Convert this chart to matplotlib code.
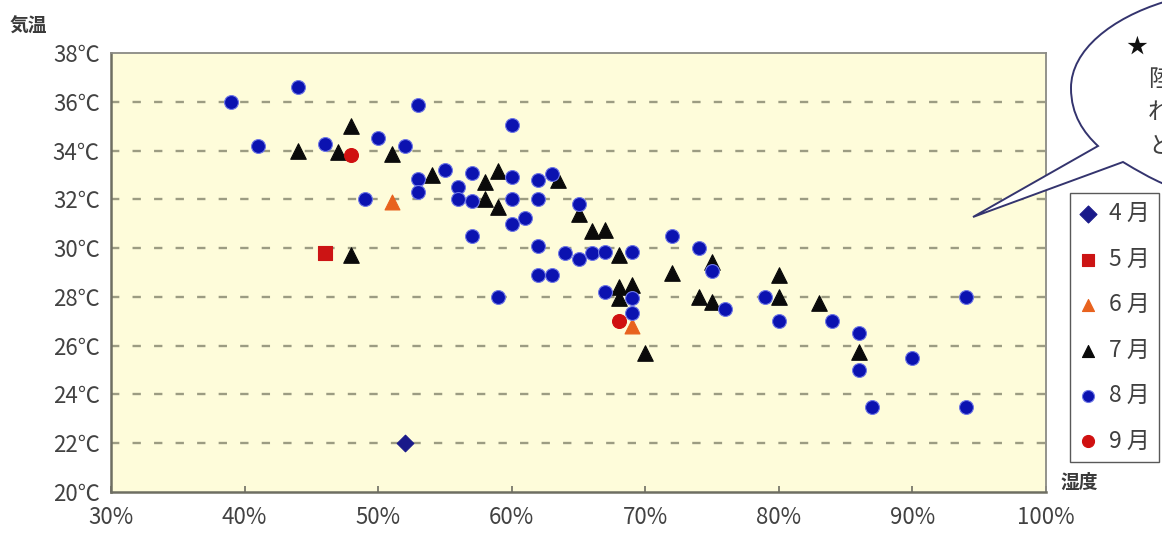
import matplotlib
matplotlib.use("Agg")
import matplotlib.pyplot as plt
from matplotlib.path import Path
from matplotlib.patches import PathPatch

plt.rcParams['font.family'] = ['Noto Sans CJK JP', 'DejaVu Sans']
plt.rcParams['lines.scale_dashes'] = False

# ---- data: humidity (%) vs. air temperature (°C), by month ----
month_labels = ["4 月", "5 月", "6 月", "7 月", "8 月", "9 月"]

apr_hum = [52]
apr_temp = [22.0]

may_hum = [46]
may_temp = [29.8]

jun_hum = [51, 69]
jun_temp = [31.9, 26.8]

jul_hum = [44, 47, 48, 48, 51, 54, 58, 58, 59, 59, 63.5, 65, 66, 67, 68, 68,
           69, 68, 70, 72, 74, 75, 75, 80, 80, 83, 86]
jul_temp = [34.0, 33.95, 35.0, 29.7, 33.85, 33.0, 32.7, 32.0, 33.15, 31.7, 32.8,
            31.4, 30.7, 30.75, 29.7, 28.4, 28.5, 27.95, 25.7, 29.0, 28.0, 27.8,
            29.45, 28.9, 28.0, 27.75, 25.75]

aug_hum = [39, 44, 41, 46, 50, 52, 53, 49, 53, 53, 55, 56, 56, 57, 57, 57, 60,
           60, 60, 60, 61, 62, 63, 62, 62, 65, 64, 65, 66, 67, 69, 72, 74, 75,
           59, 62, 63, 67, 69, 69, 76, 79, 80, 84, 86, 86, 87, 90, 94, 94]
aug_temp = [36.0, 36.6, 34.2, 34.25, 34.5, 34.2, 35.85, 32.0, 32.85, 32.3, 33.2,
            32.5, 32.0, 33.1, 31.95, 30.5, 35.05, 32.9, 32.0, 31.0, 31.25, 32.8,
            33.05, 32.0, 30.1, 31.8, 29.8, 29.55, 29.8, 29.85, 29.85, 30.5, 30.0,
            29.05, 28.0, 28.9, 28.9, 28.2, 27.95, 27.35, 27.5, 28.0, 27.0, 27.0,
            26.5, 25.0, 23.5, 25.5, 28.0, 23.5]

sep_hum = [48, 68]
sep_temp = [33.8, 27.0]

temp_ticks = list(range(20, 39, 2))
temp_labels = [f"{t}℃" for t in temp_ticks]
hum_ticks = list(range(30, 101, 10))
hum_labels = [f"{h}%" for h in hum_ticks]

# ---- figure ----
W, H = 1162, 534
fig = plt.figure(figsize=(W / 100, H / 100), dpi=100)
fig.patch.set_facecolor("white")


def px(x, y):
    """pixel position (from top-left) -> figure fraction"""
    return x / W, 1 - y / H


ax_l, ax_b = px(111, 492)
ax_r, ax_t = px(1046, 53)
ax = fig.add_axes([ax_l, ax_b, ax_r - ax_l, ax_t - ax_b])
ax.set_facecolor("#fefcda")
ax.set_xlim(30, 100)
ax.set_ylim(20, 38)

# dashed horizontal guides
for t in temp_ticks[1:-1]:
    ax.axhline(t, color="#9c9c82", lw=1.7, dashes=(6.0, 9.5), zorder=1)

series = [
    (apr_hum, apr_temp, "D", "#1a1a8a", 72, month_labels[0]),
    (may_hum, may_temp, "s", "#cc1414", 100, month_labels[1]),
    (jun_hum, jun_temp, "^", "#e8621e", 115, month_labels[2]),
    (jul_hum, jul_temp, "^", "#0a0a0a", 125, month_labels[3]),
    (aug_hum, aug_temp, "o", "#0b12b0", 100, month_labels[4]),
    (sep_hum, sep_temp, "o", "#d01010", 100, month_labels[5]),
]
handles = []
for i, (hx, ty, mk, col, size, lab) in enumerate(series):
    edge = "#6f78e6" if mk == "o" and col == "#0b12b0" else col
    h = ax.scatter(hx, ty, marker=mk, s=size, c=col, edgecolors=edge,
                   linewidths=0.8, zorder=3 + i, label=lab)
    handles.append(h)

# axes frame
for side in ("left", "bottom"):
    ax.spines[side].set_color("#6e6e62")
    ax.spines[side].set_linewidth(1.8)
for side in ("top", "right"):
    ax.spines[side].set_color("#8a8a84")
    ax.spines[side].set_linewidth(1.3)

ax.set_yticks(temp_ticks)
ax.set_yticklabels(temp_labels)
ax.set_xticks(hum_ticks)
ax.set_xticklabels(hum_labels)
ax.tick_params(axis="y", length=0, pad=8, labelsize=16, labelcolor="#424242")
ax.tick_params(axis="x", direction="in", length=4, width=1.2, color="#6e6e62",
               pad=10, labelsize=16, labelcolor="#424242")

# axis titles
fig.text(*px(10, 26), "気温", fontsize=13.5, color="#3a3a3a",
         fontweight="bold", ha="left", va="center")
fig.text(*px(1061, 482), "湿度", fontsize=13.5, color="#3a3a3a",
         fontweight="bold", ha="left", va="center")

# legend box
leg = fig.legend(handles=handles, loc="upper left",
                 bbox_to_anchor=px(1070, 193), bbox_transform=fig.transFigure,
                 frameon=True, fancybox=False, fontsize=16.5, labelspacing=0.98,
                 handlelength=0.8, handletextpad=0.5, borderpad=0.4,
                 borderaxespad=0, scatterpoints=1, labelcolor="#404040")
leg.get_frame().set_edgecolor("#303030")
leg.get_frame().set_linewidth(1.0)
for h in leg.legend_handles:
    h.set_sizes([75])

# speech bubble in the upper right corner
pts = [px(1164, 2), px(1112, 18), px(1071, 50), px(1071, 88),
       px(1071, 115), px(1084, 133), px(1098, 146),
       px(973, 217),
       px(1123, 162),
       px(1138, 171), px(1150, 178), px(1164, 184)]
codes = [Path.MOVETO, Path.CURVE4, Path.CURVE4, Path.CURVE4,
         Path.CURVE4, Path.CURVE4, Path.CURVE4,
         Path.LINETO,
         Path.LINETO,
         Path.CURVE4, Path.CURVE4, Path.CURVE4]
bubble = PathPatch(Path(pts, codes), transform=fig.transFigure,
                   facecolor="white", edgecolor="#34346e", lw=1.4, zorder=10)
fig.patches.append(bubble)

fig.text(*px(1137, 47), "★", fontsize=15, color="#111111",
         ha="center", va="center", zorder=11)
for y, line in zip([80, 113, 147], ["陸", "れ", "と"]):
    fig.text(*px(1148, y), line, fontsize=17, color="#404040",
             ha="left", va="center", zorder=11)

fig.savefig("out.png", dpi=100)
